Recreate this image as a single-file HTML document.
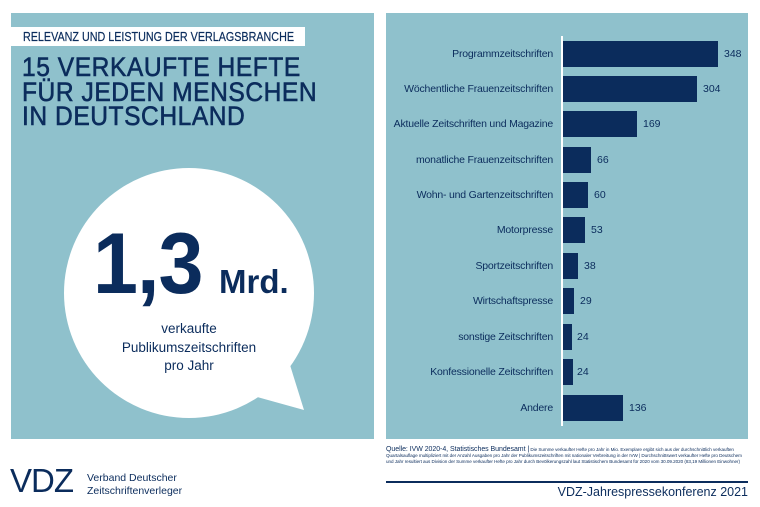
<!DOCTYPE html>
<html><head><meta charset="utf-8"><style>
body{margin:0;width:760px;height:507px;background:#fff;position:relative;overflow:hidden;font-family:"Liberation Sans",sans-serif;color:#0b2c5c}
.abs{position:absolute}
.lbl{position:absolute;right:207px;font-size:10.5px;line-height:12px;white-space:nowrap;letter-spacing:-0.2px}
.bar{position:absolute;left:563px;height:26px;background:#0b2c5c}
.val{position:absolute;font-size:10.5px;line-height:12px}
</style></head><body>
<div class="abs" style="left:11px;top:13px;width:363px;height:426px;background:#8fc1cc"></div>
<div class="abs" style="left:386px;top:13px;width:362px;height:426px;background:#8fc1cc"></div>
<div class="abs" style="left:11px;top:27px;width:294px;height:19px;background:#fff"></div>
<div class="abs" style="left:23px;top:30px;font-size:12.5px;line-height:14px;white-space:nowrap;transform:scaleX(0.86);transform-origin:0 0;-webkit-text-stroke:0.2px #0b2c5c">RELEVANZ UND LEISTUNG DER VERLAGSBRANCHE</div>
<div class="abs" style="left:22px;top:55px;font-size:27px;line-height:24.5px;white-space:nowrap;letter-spacing:0.6px;transform:scaleX(0.91);transform-origin:0 0;-webkit-text-stroke:0.6px #0b2c5c">15 VERKAUFTE HEFTE<br>FÜR JEDEN MENSCHEN<br>IN DEUTSCHLAND</div>
<svg class="abs" style="left:0;top:0" width="380" height="440"><circle cx="189" cy="293" r="125" fill="#fff"/><polygon points="250,395 304,410 290,365" fill="#fff"/></svg>
<div class="abs" style="left:93px;top:219px;font-size:86px;font-weight:bold;line-height:90px;white-space:nowrap;letter-spacing:-1px;transform:scaleX(0.94);transform-origin:0 0">1,3</div>
<div class="abs" style="left:219px;top:264px;font-size:33px;font-weight:bold;line-height:36px;white-space:nowrap">Mrd.</div>
<div class="abs" style="left:89px;top:320px;width:200px;text-align:center;font-size:13.5px;line-height:18.5px">verkaufte<br>Publikumszeitschriften<br>pro Jahr</div>
<div class="abs" style="left:561px;top:36px;width:2px;height:390px;background:#fff"></div>

<div class="lbl" style="top:48px">Programmzeitschriften</div><div class="bar" style="top:41px;width:155px"></div><div class="val" style="left:724px;top:48px">348</div>
<div class="lbl" style="top:83px">Wöchentliche Frauenzeitschriften</div><div class="bar" style="top:76px;width:134px"></div><div class="val" style="left:703px;top:83px">304</div>
<div class="lbl" style="top:118px">Aktuelle Zeitschriften und Magazine</div><div class="bar" style="top:111px;width:74px"></div><div class="val" style="left:643px;top:118px">169</div>
<div class="lbl" style="top:154px">monatliche Frauenzeitschriften</div><div class="bar" style="top:147px;width:28px"></div><div class="val" style="left:597px;top:154px">66</div>
<div class="lbl" style="top:189px">Wohn- und Gartenzeitschriften</div><div class="bar" style="top:182px;width:25px"></div><div class="val" style="left:594px;top:189px">60</div>
<div class="lbl" style="top:224px">Motorpresse</div><div class="bar" style="top:217px;width:22px"></div><div class="val" style="left:591px;top:224px">53</div>
<div class="lbl" style="top:260px">Sportzeitschriften</div><div class="bar" style="top:253px;width:15px"></div><div class="val" style="left:584px;top:260px">38</div>
<div class="lbl" style="top:295px">Wirtschaftspresse</div><div class="bar" style="top:288px;width:11px"></div><div class="val" style="left:580px;top:295px">29</div>
<div class="lbl" style="top:331px">sonstige Zeitschriften</div><div class="bar" style="top:324px;width:9px"></div><div class="val" style="left:577px;top:331px">24</div>
<div class="lbl" style="top:366px">Konfessionelle Zeitschriften</div><div class="bar" style="top:359px;width:10px"></div><div class="val" style="left:577px;top:366px">24</div>
<div class="lbl" style="top:402px">Andere</div><div class="bar" style="top:395px;width:60px"></div><div class="val" style="left:629px;top:402px">136</div>

<div class="abs" style="left:386px;top:447px;width:362px;font-size:4.6px;line-height:6px;letter-spacing:-0.05px"><span style="font-size:7px">Quelle: IVW 2020-4, Statistisches Bundesamt |</span> Die Summe verkaufter Hefte pro Jahr in Mio. Exemplare ergibt sich aus der durchschnittlich verkauften Quartalsauflage multipliziert mit der Anzahl Ausgaben pro Jahr der Publikumszeitschriften mit nationaler Verbreitung in der IVW | Durchschnittswert verkaufter Hefte pro Deutschem und Jahr resultiert aus Division der Summe verkaufter Hefte pro Jahr durch Bevölkerungszahl laut Statistischem Bundesamt für 2020 vom 30.09.2020 (83,19 Millionen Einwohner)</div>
<div class="abs" style="left:386px;top:481px;width:362px;height:1.5px;background:#0b2c5c"></div>
<div class="abs" style="right:12px;top:485px;font-size:12.5px;line-height:15px;white-space:nowrap">VDZ-Jahrespressekonferenz 2021</div>
<div class="abs" style="left:10px;top:464px;font-size:33px;line-height:34px;white-space:nowrap;letter-spacing:-1px">VDZ</div>
<div class="abs" style="left:87px;top:472px;font-size:10.5px;line-height:13px;white-space:nowrap">Verband Deutscher<br>Zeitschriftenverleger</div>
</body></html>
